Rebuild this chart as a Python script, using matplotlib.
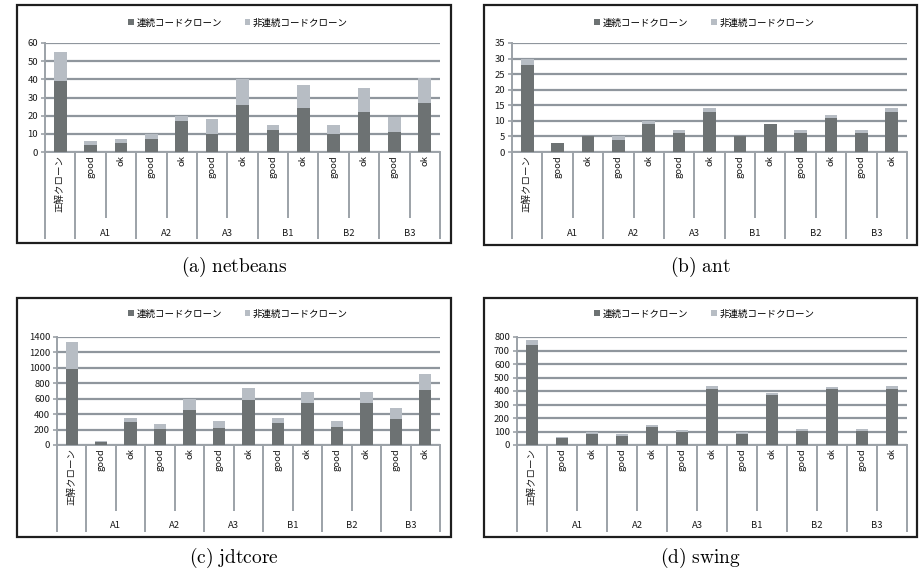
import numpy as np
import matplotlib
matplotlib.use("Agg")
import matplotlib.pyplot as plt
from matplotlib.patches import Patch, Rectangle

plt.rcParams['font.family'] = ['Noto Sans CJK JP', 'DejaVu Sans']
plt.rcParams['mathtext.fontset'] = 'cm'

# categories: first bar is the reference clone set, then good/ok per group
first_label = '正解クローン'
groups = ['A1', 'A2', 'A3', 'B1', 'B2', 'B3']
levels = ['good', 'ok']
series_names = ['連続コードクローン', '非連続コードクローン']

# consecutive clones / non-consecutive clones per bar
netbeans_cont = [39, 4, 5, 7, 17, 10, 26, 12, 24, 10, 22, 11, 27]
netbeans_noncont = [16, 2, 2, 3, 3, 8, 14, 3, 13, 5, 13, 8, 14]

ant_cont = [28, 3, 5, 4, 9, 6, 13, 5, 9, 6, 11, 6, 13]
ant_noncont = [2, 0, 0, 1, 1, 1, 1, 0, 0, 1, 1, 1, 1]

jdtcore_cont = [980, 40, 300, 210, 450, 220, 580, 280, 545, 235, 545, 340, 715]
jdtcore_noncont = [360, 10, 50, 65, 140, 85, 165, 65, 145, 70, 145, 135, 210]

swing_cont = [740, 55, 80, 70, 130, 100, 415, 85, 370, 105, 415, 105, 415]
swing_noncont = [35, 5, 15, 12, 18, 12, 20, 12, 18, 13, 13, 13, 20]

captions = ['(a)\\ netbeans', '(b)\\ ant', '(c)\\ jdtcore', '(d)\\ swing']
ymax = [60, 35, 1400, 800]
ystep = [10, 5, 200, 100]

DARK = '#6d7273'
LIGHT = '#b7bdc4'
GRID = '#8f969d'
AXC = '#9ca2a8'
TXT = '#1a1a1a'
FS = 6.8

W, H = 919, 572
fig = plt.figure(figsize=(W / 100, H / 100), dpi=100)


def fx(x):
    return x / W


def fy(y):
    return 1 - y / H


# frame (L, R, T, B), plot area (left, right, top, zero), legend y, caption y
layout = [
    ((17, 451, 5, 243), (45, 440, 43, 152), 23, 267),
    ((484, 917, 5, 245), (512, 907, 43, 152), 23, 267),
    ((17, 451, 298, 537), (57, 440, 337, 445), 314, 558),
    ((484, 917, 298, 537), (517, 907, 337, 445), 314, 558),
]
data = [(netbeans_cont, netbeans_noncont), (ant_cont, ant_noncont),
        (jdtcore_cont, jdtcore_noncont), (swing_cont, swing_noncont)]

n = 1 + len(groups) * len(levels)
xs = np.arange(n)

for i, ((fl, fr, ft, fb), (pl, pr, pt, pz), ly, cy) in enumerate(layout):
    cont, noncont = data[i]
    # black outer frame
    fig.patches.append(Rectangle((fx(fl), fy(fb)), fx(fr - fl), (fb - ft) / H,
                                 transform=fig.transFigure, fill=False,
                                 edgecolor='#1e1e1e', linewidth=1.6))
    ax = fig.add_axes([fx(pl), fy(pz), fx(pr - pl), (pz - pt) / H])
    ax.bar(xs, cont, width=0.42, color=DARK, zorder=3)
    ax.bar(xs, noncont, width=0.42, bottom=cont, color=LIGHT, zorder=3)
    ax.set_xlim(-0.5, n - 0.5)
    ax.set_ylim(0, ymax[i])
    ax.set_yticks(np.arange(0, ymax[i] + 1, ystep[i]))
    ax.yaxis.grid(True, color=GRID, linewidth=1.6, zorder=0)
    ax.tick_params(axis='y', length=3, width=1.2, color=AXC, labelsize=FS,
                   pad=2, labelcolor=TXT)
    ax.set_xticks([])
    for s in ['top', 'right']:
        ax.spines[s].set_visible(False)
    ax.spines['left'].set_color(AXC)
    ax.spines['left'].set_linewidth(1.4)
    ax.spines['bottom'].set_color(AXC)
    ax.spines['bottom'].set_linewidth(1.4)

    # multi-level category axis
    short_d = 66 / (pz - pt)
    full_d = 87 / (pz - pt)
    lab_d = 81 / (pz - pt)
    tr = ax.get_xaxis_transform()
    bounds_full = [-0.5, 0.5] + [0.5 + 2 * (k + 1) for k in range(len(groups))]
    bounds_short = [1.5 + 2 * k for k in range(len(groups))]
    for b in bounds_full:
        ax.plot([b, b], [0, -full_d], transform=tr, color=AXC, lw=1.4,
                clip_on=False, solid_capstyle='butt')
    for b in bounds_short:
        ax.plot([b, b], [0, -short_d], transform=tr, color=AXC, lw=1.4,
                clip_on=False, solid_capstyle='butt')
    ax.text(0, -3 / (pz - pt), first_label, transform=tr, rotation=90,
            ha='center', va='top', fontsize=FS, color=TXT)
    for k, g in enumerate(groups):
        for j, lv in enumerate(levels):
            ax.text(1 + 2 * k + j, -3 / (pz - pt), lv, transform=tr,
                    rotation=90, ha='center', va='top', fontsize=FS,
                    color=TXT)
        ax.text(1.5 + 2 * k, -lab_d, g, transform=tr, ha='center',
                va='center', fontsize=FS, color=TXT)

    handles = [Patch(facecolor=DARK), Patch(facecolor=LIGHT)]
    fig.legend(handles, series_names, loc='center',
               bbox_to_anchor=(fx((fl + fr) / 2 + 4), fy(ly)), ncol=2,
               frameon=False, fontsize=FS, handlelength=0.6, handleheight=0.6,
               handletextpad=0.3, columnspacing=2.4)

    fig.text(fx((fl + fr) / 2), fy(cy), r'$\mathrm{' + captions[i] + '}$',
             ha='center', va='center', fontsize=14)

fig.savefig('out.png', dpi=100)
